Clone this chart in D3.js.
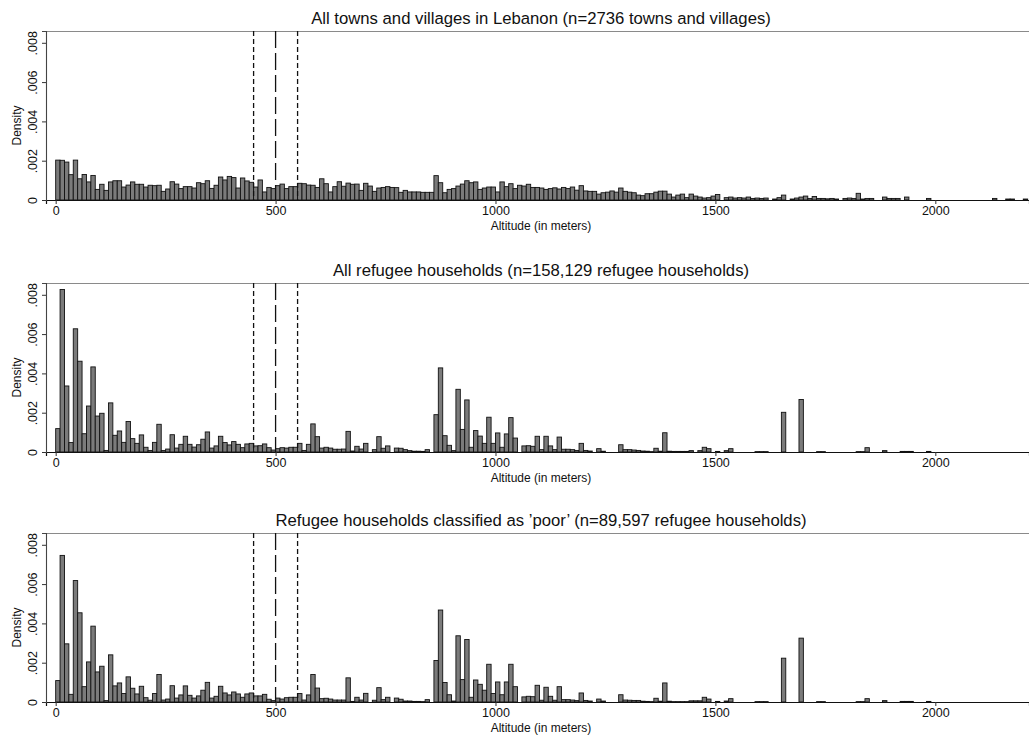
<!DOCTYPE html>
<meta charset="utf-8" />
<script src="https://d3js.org/d3.v7.min.js"></script>
<style>
  body { margin: 0; background: #fff; }
  text { font-family: "Liberation Sans", Arial, Helvetica, sans-serif; fill: #111; }
</style>
<div id="my_dataviz"></div>
<script>
  // bins are 10 m wide, starting at 0 m; density per bin
  const binWidth = 10;
  const xTicks = [0, 500, 1000, 1500, 2000];
  const yTicks = [0, 0.002, 0.004, 0.006, 0.008];
  const yTickLabels = ["0", ".002", ".004", ".006", ".008"];
  const cutoffs = [450, 500, 550];

  const titles = [
    "All towns and villages in Lebanon (n=2736 towns and villages)",
    "All refugee households (n=158,129 refugee households)",
    "Refugee households classified as \u2019poor\u2019 (n=89,597 refugee households)"
  ];

  const towns = [
    .00203, .00202, .00193, .00129, .00203, .00108, .0013, .00092, .00125, .00054,
    .0008, .00049, .00092, .00098, .00098, .00066, .00076, .00092, .0008, .0008,
    .00066, .00075, .00073, .00075, .00044, .00056, .00093, .00081, .00058, .00068,
    .00068, .00061, .00088, .00083, .00098, .00059, .00075, .00117, .00102, .0012,
    .00114, .00061, .00112, .00097, .0009, .00066, .00102, .00041, .00064, .00058,
    .00073, .00081, .00058, .00068, .00068, .00085, .00083, .00076, .00075, .00064,
    .00108, .00083, .00041, .00068, .00093, .0007, .00086, .0008, .00081, .00049,
    .00085, .00071, .00044, .00061, .00064, .00068, .00064, .00063, .00039, .00049,
    .00041, .00041, .00041, .00039, .00039, .00039, .00124, .00088, .00037, .00054,
    .00058, .00071, .00081, .00098, .00088, .00092, .00054, .00061, .00066, .00066,
    .00041, .00092, .00068, .00083, .00058, .00075, .00071, .0008, .00064, .00064,
    .00061, .00054, .00058, .00062, .00056, .00064, .00058, .00066, .0005, .00073,
    .00046, .00044, .00044, .0003, .00037, .0004, .00046, .0004, .00061, .00044,
    .0004, .00037, .00025, .00022, .00032, .00032, .0004, .00045, .00045, .0003,
    .00015, .00025, .0003, .00012, .0003, .0002, .00015, .0001, .00012, .0002,
    .00028, 0, .00012, .00015, .0001, .00012, .0001, .00015, .00008, .0001,
    .00008, .0001, 0, .00005, .00012, .00025, 0, .00005, .0001, .00015,
    .0002, .00008, .00018, .00008, .00008, .00006, .00008, .00005, 0, .00008,
    .0001, .00008, .00034, .00005, .00008, .00008, 0, 0, .00015, .00008,
    .00008, .00008, 0, .00015, 0, 0, 0, 0, .00008, 0,
    0, 0, 0, 0, 0, 0, 0, 0, 0, 0,
    0, 0, 0, .00008, 0, 0, .00005, .00005, 0, 0,
    .00005
  ];

  const refugees = [
    .00119, .00827, .00336, .00048, .00627, .00462, .00093, .00234, .00433, .00183,
    .00197, .00008, .0025, .00085, .00107, .00049, .00155, .00068, .00044, .00087,
    .00024, .00008, .00049, .00141, .00008, .00015, .00088, .0002, .00039, .0008,
    .00039, .00025, .00037, .00065, .00102, .0002, .00031, .0008, .00048, .00036,
    .00053, .00039, .00022, .00041, .00044, .00031, .00032, .00041, .00022, .0001,
    .00017, .00022, .0002, .00024, .00024, .00044, .00008, .00039, .00143, .00078,
    .0002, .00024, .0002, .00014, .00014, .00015, .00105, .00005, .00029, .00015,
    .00044, 0, .00012, .00078, .00019, .00031, 0, .0002, .00019, .00012,
    .00007, .00004, .00004, .00003, .00012, 0, .0019, .00428, .00083, .00034,
    .00007, .00319, .00115, .00265, .00024, .00109, .00081, .00044, .00177, .00044,
    .00097, .00024, .00092, .00175, .00071, 0, .00031, .00032, .00029, .0008,
    .00012, .0008, .00031, .00012, .00076, .00014, .00014, .00012, .00008, .00044,
    .00008, .00005, 0, .00017, .00004, 0, 0, 0, .00037, .00012,
    .00012, .0001, .00008, .00005, .00004, .00002, .00019, .00004, .00098, .00004,
    .00003, .00003, .00003, .00003, .00007, 0, .00007, .00024, .00017, 0,
    .00003, 0, .00007, .00017, 0, 0, 0, 0, 0, .00002,
    .00002, .00002, 0, 0, 0, .00202, 0, 0, 0, .00267,
    0, 0, 0, .00002, .00002, 0, 0, 0, 0, 0,
    0, 0, .00002, .00002, .00022, 0, 0, 0, .00007, 0,
    0, 0, .00003, .00003, .00003, 0, 0, 0, .00003, 0,
    0, 0, 0, 0, 0, 0, 0, 0, 0, 0,
    0, 0, 0, 0, 0, 0, 0, 0, 0, 0,
    0
  ];

  const poor = [
    .00109, .00746, .00296, .00039, .00618, .00454, .00078, .00204, .00386, .00153,
    .00182, .00007, .0024, .00082, .00097, .00043, .00128, .0007, .00041, .0008,
    .00022, .00009, .00043, .0014, .0001, .00015, .00083, .0002, .00036, .00082,
    .00034, .0002, .00031, .0006, .001, .0002, .00029, .0008, .00046, .00036,
    .00051, .00041, .00024, .00041, .00046, .00031, .00031, .00039, .00014, .00007,
    .0002, .00015, .00022, .00024, .00024, .00043, .0001, .00036, .0014, .00071,
    .00017, .00019, .00015, .0001, .0001, .0001, .00123, .00003, .00024, .0001,
    .00044, 0, .00009, .00073, .00012, .00024, 0, .0002, .00014, .00005,
    .00005, .00003, .00003, .00002, .00012, 0, .00211, .00468, .00099, .00037,
    .00005, .00337, .00114, .00318, .00024, .00112, .0009, .0006, .00192, .00043,
    .00102, .00037, .00102, .00192, .00078, 0, .00026, .00029, .00027, .00085,
    .00009, .00075, .00029, .00009, .00078, .00012, .00012, .0001, .00007, .00046,
    .00008, .00005, 0, .00015, .00005, 0, 0, 0, .00037, .0001,
    .00009, .00008, .00008, .00004, .00003, .00002, .00019, .00004, .00097, .00004,
    .00002, .00002, .00002, .00002, .00006, .00006, .00006, .00024, .00015, 0,
    .00003, 0, .00005, .00017, 0, 0, 0, 0, 0, .00002,
    .00002, .00002, 0, 0, 0, .00223, 0, 0, 0, .00325,
    0, 0, 0, .00002, .00002, 0, 0, 0, 0, 0,
    0, 0, .00002, .00002, .00017, 0, 0, 0, .00007, 0,
    0, 0, .00003, .00003, .00003, 0, 0, 0, .00003, 0,
    0, 0, 0, 0, 0, 0, 0, 0, 0, 0,
    0, 0, 0, 0, 0, 0, 0, 0, 0, 0,
    0
  ];

  const seriesList = [towns, refugees, poor];
  const panelTops = [31, 283, 533];

  const width = 1029,
    height = 739,
    plotHeight = 169;

  const svg = d3
    .select("#my_dataviz")
    .append("svg")
    .attr("width", width)
    .attr("height", height);

  const x = d3.scaleLinear().domain([-22, 2213]).range([46, 1029]);
  const y = d3.scaleLinear().domain([0, 0.0086]).range([plotHeight, 0]);

  seriesList.forEach(function (values, p) {
    const g = svg
      .append("g")
      .attr("transform", `translate(0, ${panelTops[p]})`);

    // title
    g.append("text")
      .attr("x", 541)
      .attr("y", -7)
      .attr("text-anchor", "middle")
      .style("font-size", "16.7px")
      .text(titles[p]);

    // top frame line
    g.append("line")
      .attr("x1", x.range()[0])
      .attr("x2", x.range()[1])
      .attr("y1", 0.5)
      .attr("y2", 0.5)
      .attr("stroke", "#8a8a8a")
      .attr("stroke-width", 1.2);

    // bars
    const bins = values
      .map(function (v, i) {
        return { x0: i * binWidth, x1: (i + 1) * binWidth, v: v };
      })
      .filter(function (d) {
        return d.v > 0;
      });

    g.append("g")
      .selectAll("rect")
      .data(bins)
      .join("rect")
      .attr("x", (d) => x(d.x0))
      .attr("width", (d) => x(d.x1) - x(d.x0))
      .attr("y", (d) => y(d.v))
      .attr("height", (d) => y(0) - y(d.v))
      .attr("fill", "#7b7b7b")
      .attr("stroke", "#111")
      .attr("stroke-width", 0.9);

    // cutoff lines
    g.append("g")
      .selectAll("line")
      .data(cutoffs)
      .join("line")
      .attr("x1", (d) => x(d))
      .attr("x2", (d) => x(d))
      .attr("y1", 0)
      .attr("y2", plotHeight)
      .attr("stroke", "#111")
      .attr("stroke-width", 1.3)
      .attr("stroke-dasharray", (d) => (d === 500 ? "17,5" : "5,3"));

    // x axis
    const xAxis = g
      .append("g")
      .attr("transform", `translate(0, ${plotHeight})`)
      .call(
        d3
          .axisBottom(x)
          .tickValues(xTicks)
          .tickSize(4)
          .tickFormat(d3.format("d"))
      );
    xAxis.select(".domain").attr("stroke", "#111").attr("stroke-width", 1.2);
    xAxis.selectAll(".tick line").attr("stroke", "#333");
    xAxis
      .selectAll(".tick text")
      .attr("dy", "0.71em")
      .attr("y", 6)
      .style("font-size", "12.5px")
      .style("font-family", '"Liberation Sans", Arial, sans-serif')
      .attr("fill", "#111");

    g.append("text")
      .attr("x", 541)
      .attr("y", plotHeight + 30)
      .attr("text-anchor", "middle")
      .style("font-size", "12px")
      .text("Altitude (in meters)");

    // y axis
    const yAxis = g
      .append("g")
      .attr("transform", `translate(${x.range()[0]}, 0)`)
      .call(
        d3
          .axisLeft(y)
          .tickValues(yTicks)
          .tickSize(4)
          .tickFormat((d, i) => yTickLabels[i])
      );
    yAxis.select(".domain").attr("stroke", "#444").attr("stroke-width", 1.1);
    yAxis.selectAll(".tick line").attr("stroke", "#333");
    yAxis
      .selectAll(".tick text")
      .attr("x", null)
      .attr("dy", null)
      .attr("text-anchor", "middle")
      .attr("transform", "translate(-9, 0) rotate(-90)")
      .style("font-size", "12.5px")
      .style("font-family", '"Liberation Sans", Arial, sans-serif')
      .attr("fill", "#111");

    g.append("text")
      .attr("transform", `translate(21, ${plotHeight / 2 + 10}) rotate(-90)`)
      .attr("text-anchor", "middle")
      .style("font-size", "12px")
      .text("Density");
  });
</script>
